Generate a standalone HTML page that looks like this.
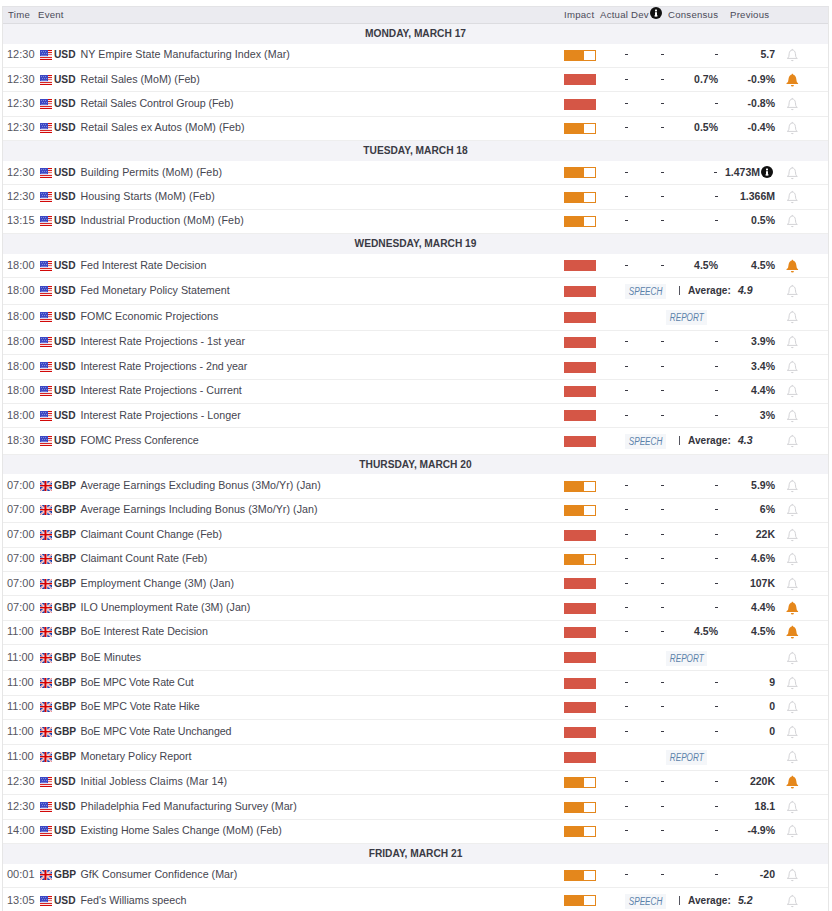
<!DOCTYPE html><html><head><meta charset="utf-8"><title>Economic Calendar</title><style>
*{margin:0;padding:0;box-sizing:border-box}
html,body{width:832px;height:911px;overflow:hidden;background:#fff}
body{position:relative;font-family:"Liberation Sans", sans-serif;color:#333}
.tbl{position:absolute;left:2px;top:6px;width:827px;height:920px;border-left:1px solid #e6e6e6;border-right:1px solid #e6e6e6;border-top:1px solid #e3e3e6}
.hd{position:absolute;left:3px;top:7px;width:825px;height:17px;background:#ebebf0;border-bottom:1px solid #dcdce0}
.t{position:absolute;white-space:nowrap;line-height:12px}
.h{font-size:9.6px;letter-spacing:0.25px;color:#4a4a58}
.day{position:absolute;left:3px;width:825px;background:#f3f3f7}
.dt{position:absolute;left:0;width:825px;text-align:center;font-weight:bold;font-size:10.2px;color:#3a3a44}
.row{position:absolute;left:3px;width:825px;border-bottom:1px solid #eeeeee;background:#fff}
.tm{font-size:11px;color:#56565f}
.cc{font-size:10.2px;font-weight:bold;color:#34343c}
.nm{font-size:10.7px;color:#45454f}
.v{font-size:10.5px;font-weight:bold;color:#34343c}
.r{text-align:right}
.dash{position:absolute;width:3px;height:1px;background:#3a3a44}
.bar{position:absolute;width:32px;height:11px}
.bar.r1{background:#d55646}
.bar.o1{background:#e4871c}
.bar.o1 i{position:absolute;right:1px;top:1px;width:11px;height:9px;background:#fff}
.lab{position:absolute;width:41px;height:15px;background:#f4f6f9;color:#5b82aa;font-style:italic;font-size:10px;text-align:center;line-height:15px}
.lab span{display:inline-block;transform:scaleX(0.82);transform-origin:50% 50%}
.ab,.ic{position:absolute;line-height:0}
svg{display:block}
</style></head><body>
<div class="tbl"></div>
<div class="hd"></div>
<div class="t h" style="left:8px;top:9px">Time</div>
<div class="t h" style="left:38px;top:9px">Event</div>
<div class="t h" style="left:564px;top:9px">Impact</div>
<div class="t h" style="left:600px;top:9px">Actual</div>
<div class="t h" style="left:631px;top:9px">Dev</div>
<div class="t h" style="left:668px;top:9px">Consensus</div>
<div class="t h" style="left:730px;top:9px">Previous</div>
<div class="ic" style="left:650px;top:7px"><svg width="12" height="12" viewBox="0 0 12 12"><circle cx="6" cy="6" r="6" fill="#111"/><rect x="5" y="2.6" width="2" height="1.8" fill="#fff"/><rect x="5" y="5.2" width="2" height="4.2" fill="#fff"/><rect x="4.4" y="8.4" width="3.2" height="1" fill="#fff"/></svg></div>
<div class="day" style="top:24px;height:20px"><div class="t dt" style="top:4px">MONDAY, MARCH 17</div></div>
<div class="row" style="top:44px;height:24px">
<div class="t tm" style="left:4px;top:4px">12:30</div>
<div class="ab" style="left:37px;top:6px"><svg width="12" height="10" viewBox="0 0 12 10" shape-rendering="crispEdges"><rect width="12" height="10" fill="#fae6e6"/><rect x="8" y="0" width="4" height="1" fill="#d40a0a"/><rect x="8" y="2" width="4" height="1" fill="#d82020"/><rect x="8" y="4" width="4" height="1" fill="#e47070"/><rect x="0" y="7" width="12" height="1" fill="#d82424"/><rect x="0" y="9" width="12" height="1" fill="#d20808"/><rect x="0" y="6" width="8" height="1" fill="#dcdcf4"/><rect x="0" y="0" width="8" height="6" fill="#3c48c4"/><rect x="1" y="1" width="1" height="1" fill="#8088dc"/><rect x="3" y="1" width="1" height="1" fill="#8088dc"/><rect x="5" y="1" width="1" height="1" fill="#8088dc"/><rect x="2" y="3" width="1" height="1" fill="#8088dc"/><rect x="4" y="3" width="1" height="1" fill="#8088dc"/><rect x="6" y="3" width="1" height="1" fill="#8088dc"/><rect x="1" y="5" width="6" height="1" fill="#7078d4"/></svg></div>
<div class="t cc" style="left:51px;top:5px">USD</div>
<div class="t nm" style="left:77.5px;top:4px;letter-spacing:0.040px;">NY Empire State Manufacturing Index (Mar)</div>
<div class="bar o1" style="left:561px;top:6px"><i></i></div>
<div class="dash" style="left:622px;top:10px"></div>
<div class="dash" style="left:658px;top:10px"></div>
<div class="dash" style="left:712px;top:10px"></div>
<div class="t v r" style="right:53px;top:4px">5.7</div>
<div class="ab" style="left:783px;top:4px"><svg width="13" height="15" viewBox="0 0 13 15"><path d="M6.3 2.0 C4.4 2.1 3.4 3.6 3.2 5.6 L2.8 8.7 C2.6 9.5 2.0 10.0 1.3 10.4 L11.3 10.4 C10.6 10.0 10.0 9.5 9.8 8.7 L9.4 5.6 C9.2 3.6 8.2 2.1 6.3 2.0 Z" fill="none" stroke="#d3d3d6" stroke-width="1"/><rect x="5.8" y="0.9" width="1" height="1.2" fill="#d3d3d6"/><path d="M5 12.1 H7.6 A1.3 1.1 0 0 1 5 12.1 Z" fill="#d3d3d6"/></svg></div>
</div>
<div class="row" style="top:68px;height:24px">
<div class="t tm" style="left:4px;top:5px">12:30</div>
<div class="ab" style="left:37px;top:7px"><svg width="12" height="10" viewBox="0 0 12 10" shape-rendering="crispEdges"><rect width="12" height="10" fill="#fae6e6"/><rect x="8" y="0" width="4" height="1" fill="#d40a0a"/><rect x="8" y="2" width="4" height="1" fill="#d82020"/><rect x="8" y="4" width="4" height="1" fill="#e47070"/><rect x="0" y="7" width="12" height="1" fill="#d82424"/><rect x="0" y="9" width="12" height="1" fill="#d20808"/><rect x="0" y="6" width="8" height="1" fill="#dcdcf4"/><rect x="0" y="0" width="8" height="6" fill="#3c48c4"/><rect x="1" y="1" width="1" height="1" fill="#8088dc"/><rect x="3" y="1" width="1" height="1" fill="#8088dc"/><rect x="5" y="1" width="1" height="1" fill="#8088dc"/><rect x="2" y="3" width="1" height="1" fill="#8088dc"/><rect x="4" y="3" width="1" height="1" fill="#8088dc"/><rect x="6" y="3" width="1" height="1" fill="#8088dc"/><rect x="1" y="5" width="6" height="1" fill="#7078d4"/></svg></div>
<div class="t cc" style="left:51px;top:6px">USD</div>
<div class="t nm" style="left:77.5px;top:5px;">Retail Sales (MoM) (Feb)</div>
<div class="bar r1" style="left:561px;top:6px"></div>
<div class="dash" style="left:622px;top:11px"></div>
<div class="dash" style="left:658px;top:11px"></div>
<div class="t v r" style="right:110px;top:5px">0.7%</div>
<div class="t v r" style="right:53px;top:5px">-0.9%</div>
<div class="ab" style="left:783px;top:5px"><svg width="13" height="15" viewBox="0 0 13 15"><path d="M6.4 1.5 C4.2 1.6 2.9 3.2 2.6 5.5 L2.1 8.6 C1.9 9.4 1.2 9.9 0.5 10.2 L0.5 11 L12.1 11 L12.1 10.2 C11.4 9.9 10.9 9.4 10.7 8.6 L10.2 5.5 C9.9 3.2 8.6 1.6 6.4 1.5 Z" fill="#e5871b"/><rect x="5.8" y="0.8" width="1.2" height="1.2" fill="#e5871b"/><path d="M4.9 11.9 H7.9 A1.5 1.5 0 0 1 4.9 11.9 Z" fill="#e5871b"/></svg></div>
</div>
<div class="row" style="top:92px;height:25px">
<div class="t tm" style="left:4px;top:5px">12:30</div>
<div class="ab" style="left:37px;top:7px"><svg width="12" height="10" viewBox="0 0 12 10" shape-rendering="crispEdges"><rect width="12" height="10" fill="#fae6e6"/><rect x="8" y="0" width="4" height="1" fill="#d40a0a"/><rect x="8" y="2" width="4" height="1" fill="#d82020"/><rect x="8" y="4" width="4" height="1" fill="#e47070"/><rect x="0" y="7" width="12" height="1" fill="#d82424"/><rect x="0" y="9" width="12" height="1" fill="#d20808"/><rect x="0" y="6" width="8" height="1" fill="#dcdcf4"/><rect x="0" y="0" width="8" height="6" fill="#3c48c4"/><rect x="1" y="1" width="1" height="1" fill="#8088dc"/><rect x="3" y="1" width="1" height="1" fill="#8088dc"/><rect x="5" y="1" width="1" height="1" fill="#8088dc"/><rect x="2" y="3" width="1" height="1" fill="#8088dc"/><rect x="4" y="3" width="1" height="1" fill="#8088dc"/><rect x="6" y="3" width="1" height="1" fill="#8088dc"/><rect x="1" y="5" width="6" height="1" fill="#7078d4"/></svg></div>
<div class="t cc" style="left:51px;top:6px">USD</div>
<div class="t nm" style="left:77.5px;top:5px;letter-spacing:-0.081px;">Retail Sales Control Group (Feb)</div>
<div class="bar r1" style="left:561px;top:7px"></div>
<div class="dash" style="left:622px;top:11px"></div>
<div class="dash" style="left:658px;top:11px"></div>
<div class="dash" style="left:712px;top:11px"></div>
<div class="t v r" style="right:53px;top:5px">-0.8%</div>
<div class="ab" style="left:783px;top:5px"><svg width="13" height="15" viewBox="0 0 13 15"><path d="M6.3 2.0 C4.4 2.1 3.4 3.6 3.2 5.6 L2.8 8.7 C2.6 9.5 2.0 10.0 1.3 10.4 L11.3 10.4 C10.6 10.0 10.0 9.5 9.8 8.7 L9.4 5.6 C9.2 3.6 8.2 2.1 6.3 2.0 Z" fill="none" stroke="#d3d3d6" stroke-width="1"/><rect x="5.8" y="0.9" width="1" height="1.2" fill="#d3d3d6"/><path d="M5 12.1 H7.6 A1.3 1.1 0 0 1 5 12.1 Z" fill="#d3d3d6"/></svg></div>
</div>
<div class="row" style="top:117px;height:24px">
<div class="t tm" style="left:4px;top:4px">12:30</div>
<div class="ab" style="left:37px;top:6px"><svg width="12" height="10" viewBox="0 0 12 10" shape-rendering="crispEdges"><rect width="12" height="10" fill="#fae6e6"/><rect x="8" y="0" width="4" height="1" fill="#d40a0a"/><rect x="8" y="2" width="4" height="1" fill="#d82020"/><rect x="8" y="4" width="4" height="1" fill="#e47070"/><rect x="0" y="7" width="12" height="1" fill="#d82424"/><rect x="0" y="9" width="12" height="1" fill="#d20808"/><rect x="0" y="6" width="8" height="1" fill="#dcdcf4"/><rect x="0" y="0" width="8" height="6" fill="#3c48c4"/><rect x="1" y="1" width="1" height="1" fill="#8088dc"/><rect x="3" y="1" width="1" height="1" fill="#8088dc"/><rect x="5" y="1" width="1" height="1" fill="#8088dc"/><rect x="2" y="3" width="1" height="1" fill="#8088dc"/><rect x="4" y="3" width="1" height="1" fill="#8088dc"/><rect x="6" y="3" width="1" height="1" fill="#8088dc"/><rect x="1" y="5" width="6" height="1" fill="#7078d4"/></svg></div>
<div class="t cc" style="left:51px;top:5px">USD</div>
<div class="t nm" style="left:77.5px;top:4px;letter-spacing:0.022px;">Retail Sales ex Autos (MoM) (Feb)</div>
<div class="bar o1" style="left:561px;top:6px"><i></i></div>
<div class="dash" style="left:622px;top:10px"></div>
<div class="dash" style="left:658px;top:10px"></div>
<div class="t v r" style="right:110px;top:4px">0.5%</div>
<div class="t v r" style="right:53px;top:4px">-0.4%</div>
<div class="ab" style="left:783px;top:4px"><svg width="13" height="15" viewBox="0 0 13 15"><path d="M6.3 2.0 C4.4 2.1 3.4 3.6 3.2 5.6 L2.8 8.7 C2.6 9.5 2.0 10.0 1.3 10.4 L11.3 10.4 C10.6 10.0 10.0 9.5 9.8 8.7 L9.4 5.6 C9.2 3.6 8.2 2.1 6.3 2.0 Z" fill="none" stroke="#d3d3d6" stroke-width="1"/><rect x="5.8" y="0.9" width="1" height="1.2" fill="#d3d3d6"/><path d="M5 12.1 H7.6 A1.3 1.1 0 0 1 5 12.1 Z" fill="#d3d3d6"/></svg></div>
</div>
<div class="day" style="top:141px;height:20px"><div class="t dt" style="top:4px">TUESDAY, MARCH 18</div></div>
<div class="row" style="top:161px;height:24px">
<div class="t tm" style="left:4px;top:5px">12:30</div>
<div class="ab" style="left:37px;top:7px"><svg width="12" height="10" viewBox="0 0 12 10" shape-rendering="crispEdges"><rect width="12" height="10" fill="#fae6e6"/><rect x="8" y="0" width="4" height="1" fill="#d40a0a"/><rect x="8" y="2" width="4" height="1" fill="#d82020"/><rect x="8" y="4" width="4" height="1" fill="#e47070"/><rect x="0" y="7" width="12" height="1" fill="#d82424"/><rect x="0" y="9" width="12" height="1" fill="#d20808"/><rect x="0" y="6" width="8" height="1" fill="#dcdcf4"/><rect x="0" y="0" width="8" height="6" fill="#3c48c4"/><rect x="1" y="1" width="1" height="1" fill="#8088dc"/><rect x="3" y="1" width="1" height="1" fill="#8088dc"/><rect x="5" y="1" width="1" height="1" fill="#8088dc"/><rect x="2" y="3" width="1" height="1" fill="#8088dc"/><rect x="4" y="3" width="1" height="1" fill="#8088dc"/><rect x="6" y="3" width="1" height="1" fill="#8088dc"/><rect x="1" y="5" width="6" height="1" fill="#7078d4"/></svg></div>
<div class="t cc" style="left:51px;top:6px">USD</div>
<div class="t nm" style="left:77.5px;top:5px;letter-spacing:0.070px;">Building Permits (MoM) (Feb)</div>
<div class="bar o1" style="left:561px;top:6px"><i></i></div>
<div class="dash" style="left:622px;top:11px"></div>
<div class="dash" style="left:658px;top:11px"></div>
<div class="dash" style="left:711px;top:11px"></div>
<div class="t v r" style="right:68px;top:5px">1.473M</div>
<div class="ic" style="left:758px;top:5px"><svg width="12" height="12" viewBox="0 0 12 12"><circle cx="6" cy="6" r="6" fill="#111"/><rect x="5" y="2.6" width="2" height="1.8" fill="#fff"/><rect x="5" y="5.2" width="2" height="4.2" fill="#fff"/><rect x="4.4" y="8.4" width="3.2" height="1" fill="#fff"/></svg></div>
<div class="ab" style="left:783px;top:5px"><svg width="13" height="15" viewBox="0 0 13 15"><path d="M6.3 2.0 C4.4 2.1 3.4 3.6 3.2 5.6 L2.8 8.7 C2.6 9.5 2.0 10.0 1.3 10.4 L11.3 10.4 C10.6 10.0 10.0 9.5 9.8 8.7 L9.4 5.6 C9.2 3.6 8.2 2.1 6.3 2.0 Z" fill="none" stroke="#d3d3d6" stroke-width="1"/><rect x="5.8" y="0.9" width="1" height="1.2" fill="#d3d3d6"/><path d="M5 12.1 H7.6 A1.3 1.1 0 0 1 5 12.1 Z" fill="#d3d3d6"/></svg></div>
</div>
<div class="row" style="top:185px;height:25px">
<div class="t tm" style="left:4px;top:5px">12:30</div>
<div class="ab" style="left:37px;top:7px"><svg width="12" height="10" viewBox="0 0 12 10" shape-rendering="crispEdges"><rect width="12" height="10" fill="#fae6e6"/><rect x="8" y="0" width="4" height="1" fill="#d40a0a"/><rect x="8" y="2" width="4" height="1" fill="#d82020"/><rect x="8" y="4" width="4" height="1" fill="#e47070"/><rect x="0" y="7" width="12" height="1" fill="#d82424"/><rect x="0" y="9" width="12" height="1" fill="#d20808"/><rect x="0" y="6" width="8" height="1" fill="#dcdcf4"/><rect x="0" y="0" width="8" height="6" fill="#3c48c4"/><rect x="1" y="1" width="1" height="1" fill="#8088dc"/><rect x="3" y="1" width="1" height="1" fill="#8088dc"/><rect x="5" y="1" width="1" height="1" fill="#8088dc"/><rect x="2" y="3" width="1" height="1" fill="#8088dc"/><rect x="4" y="3" width="1" height="1" fill="#8088dc"/><rect x="6" y="3" width="1" height="1" fill="#8088dc"/><rect x="1" y="5" width="6" height="1" fill="#7078d4"/></svg></div>
<div class="t cc" style="left:51px;top:6px">USD</div>
<div class="t nm" style="left:77.5px;top:5px;letter-spacing:0.076px;">Housing Starts (MoM) (Feb)</div>
<div class="bar o1" style="left:561px;top:7px"><i></i></div>
<div class="dash" style="left:622px;top:11px"></div>
<div class="dash" style="left:658px;top:11px"></div>
<div class="dash" style="left:712px;top:11px"></div>
<div class="t v r" style="right:53px;top:5px">1.366M</div>
<div class="ab" style="left:783px;top:5px"><svg width="13" height="15" viewBox="0 0 13 15"><path d="M6.3 2.0 C4.4 2.1 3.4 3.6 3.2 5.6 L2.8 8.7 C2.6 9.5 2.0 10.0 1.3 10.4 L11.3 10.4 C10.6 10.0 10.0 9.5 9.8 8.7 L9.4 5.6 C9.2 3.6 8.2 2.1 6.3 2.0 Z" fill="none" stroke="#d3d3d6" stroke-width="1"/><rect x="5.8" y="0.9" width="1" height="1.2" fill="#d3d3d6"/><path d="M5 12.1 H7.6 A1.3 1.1 0 0 1 5 12.1 Z" fill="#d3d3d6"/></svg></div>
</div>
<div class="row" style="top:210px;height:24px">
<div class="t tm" style="left:4px;top:4px">13:15</div>
<div class="ab" style="left:37px;top:6px"><svg width="12" height="10" viewBox="0 0 12 10" shape-rendering="crispEdges"><rect width="12" height="10" fill="#fae6e6"/><rect x="8" y="0" width="4" height="1" fill="#d40a0a"/><rect x="8" y="2" width="4" height="1" fill="#d82020"/><rect x="8" y="4" width="4" height="1" fill="#e47070"/><rect x="0" y="7" width="12" height="1" fill="#d82424"/><rect x="0" y="9" width="12" height="1" fill="#d20808"/><rect x="0" y="6" width="8" height="1" fill="#dcdcf4"/><rect x="0" y="0" width="8" height="6" fill="#3c48c4"/><rect x="1" y="1" width="1" height="1" fill="#8088dc"/><rect x="3" y="1" width="1" height="1" fill="#8088dc"/><rect x="5" y="1" width="1" height="1" fill="#8088dc"/><rect x="2" y="3" width="1" height="1" fill="#8088dc"/><rect x="4" y="3" width="1" height="1" fill="#8088dc"/><rect x="6" y="3" width="1" height="1" fill="#8088dc"/><rect x="1" y="5" width="6" height="1" fill="#7078d4"/></svg></div>
<div class="t cc" style="left:51px;top:5px">USD</div>
<div class="t nm" style="left:77.5px;top:4px;letter-spacing:0.109px;">Industrial Production (MoM) (Feb)</div>
<div class="bar o1" style="left:561px;top:6px"><i></i></div>
<div class="dash" style="left:622px;top:10px"></div>
<div class="dash" style="left:658px;top:10px"></div>
<div class="dash" style="left:712px;top:10px"></div>
<div class="t v r" style="right:53px;top:4px">0.5%</div>
<div class="ab" style="left:783px;top:4px"><svg width="13" height="15" viewBox="0 0 13 15"><path d="M6.3 2.0 C4.4 2.1 3.4 3.6 3.2 5.6 L2.8 8.7 C2.6 9.5 2.0 10.0 1.3 10.4 L11.3 10.4 C10.6 10.0 10.0 9.5 9.8 8.7 L9.4 5.6 C9.2 3.6 8.2 2.1 6.3 2.0 Z" fill="none" stroke="#d3d3d6" stroke-width="1"/><rect x="5.8" y="0.9" width="1" height="1.2" fill="#d3d3d6"/><path d="M5 12.1 H7.6 A1.3 1.1 0 0 1 5 12.1 Z" fill="#d3d3d6"/></svg></div>
</div>
<div class="day" style="top:234px;height:20px"><div class="t dt" style="top:4px">WEDNESDAY, MARCH 19</div></div>
<div class="row" style="top:254px;height:24px">
<div class="t tm" style="left:4px;top:5px">18:00</div>
<div class="ab" style="left:37px;top:7px"><svg width="12" height="10" viewBox="0 0 12 10" shape-rendering="crispEdges"><rect width="12" height="10" fill="#fae6e6"/><rect x="8" y="0" width="4" height="1" fill="#d40a0a"/><rect x="8" y="2" width="4" height="1" fill="#d82020"/><rect x="8" y="4" width="4" height="1" fill="#e47070"/><rect x="0" y="7" width="12" height="1" fill="#d82424"/><rect x="0" y="9" width="12" height="1" fill="#d20808"/><rect x="0" y="6" width="8" height="1" fill="#dcdcf4"/><rect x="0" y="0" width="8" height="6" fill="#3c48c4"/><rect x="1" y="1" width="1" height="1" fill="#8088dc"/><rect x="3" y="1" width="1" height="1" fill="#8088dc"/><rect x="5" y="1" width="1" height="1" fill="#8088dc"/><rect x="2" y="3" width="1" height="1" fill="#8088dc"/><rect x="4" y="3" width="1" height="1" fill="#8088dc"/><rect x="6" y="3" width="1" height="1" fill="#8088dc"/><rect x="1" y="5" width="6" height="1" fill="#7078d4"/></svg></div>
<div class="t cc" style="left:51px;top:6px">USD</div>
<div class="t nm" style="left:77.5px;top:5px;letter-spacing:-0.028px;">Fed Interest Rate Decision</div>
<div class="bar r1" style="left:561px;top:6px"></div>
<div class="dash" style="left:622px;top:11px"></div>
<div class="dash" style="left:658px;top:11px"></div>
<div class="t v r" style="right:110px;top:5px">4.5%</div>
<div class="t v r" style="right:53px;top:5px">4.5%</div>
<div class="ab" style="left:783px;top:5px"><svg width="13" height="15" viewBox="0 0 13 15"><path d="M6.4 1.5 C4.2 1.6 2.9 3.2 2.6 5.5 L2.1 8.6 C1.9 9.4 1.2 9.9 0.5 10.2 L0.5 11 L12.1 11 L12.1 10.2 C11.4 9.9 10.9 9.4 10.7 8.6 L10.2 5.5 C9.9 3.2 8.6 1.6 6.4 1.5 Z" fill="#e5871b"/><rect x="5.8" y="0.8" width="1.2" height="1.2" fill="#e5871b"/><path d="M4.9 11.9 H7.9 A1.5 1.5 0 0 1 4.9 11.9 Z" fill="#e5871b"/></svg></div>
</div>
<div class="row" style="top:278px;height:27px">
<div class="t tm" style="left:4px;top:6px">18:00</div>
<div class="ab" style="left:37px;top:8px"><svg width="12" height="10" viewBox="0 0 12 10" shape-rendering="crispEdges"><rect width="12" height="10" fill="#fae6e6"/><rect x="8" y="0" width="4" height="1" fill="#d40a0a"/><rect x="8" y="2" width="4" height="1" fill="#d82020"/><rect x="8" y="4" width="4" height="1" fill="#e47070"/><rect x="0" y="7" width="12" height="1" fill="#d82424"/><rect x="0" y="9" width="12" height="1" fill="#d20808"/><rect x="0" y="6" width="8" height="1" fill="#dcdcf4"/><rect x="0" y="0" width="8" height="6" fill="#3c48c4"/><rect x="1" y="1" width="1" height="1" fill="#8088dc"/><rect x="3" y="1" width="1" height="1" fill="#8088dc"/><rect x="5" y="1" width="1" height="1" fill="#8088dc"/><rect x="2" y="3" width="1" height="1" fill="#8088dc"/><rect x="4" y="3" width="1" height="1" fill="#8088dc"/><rect x="6" y="3" width="1" height="1" fill="#8088dc"/><rect x="1" y="5" width="6" height="1" fill="#7078d4"/></svg></div>
<div class="t cc" style="left:51px;top:7px">USD</div>
<div class="t nm" style="left:77.5px;top:6px;">Fed Monetary Policy Statement</div>
<div class="bar r1" style="left:561px;top:8px"></div>
<div class="lab" style="left:622px;top:6px"><span>SPEECH</span></div>
<div style="position:absolute;left:676px;top:8px;width:1px;height:9px;background:#55555f"></div>
<div class="t v" style="left:685px;top:7px;font-size:10.1px">Average:</div>
<div class="t v" style="left:735px;top:6px;font-style:italic;">4.9</div>
<div class="ab" style="left:783px;top:6px"><svg width="13" height="15" viewBox="0 0 13 15"><path d="M6.3 2.0 C4.4 2.1 3.4 3.6 3.2 5.6 L2.8 8.7 C2.6 9.5 2.0 10.0 1.3 10.4 L11.3 10.4 C10.6 10.0 10.0 9.5 9.8 8.7 L9.4 5.6 C9.2 3.6 8.2 2.1 6.3 2.0 Z" fill="none" stroke="#d3d3d6" stroke-width="1"/><rect x="5.8" y="0.9" width="1" height="1.2" fill="#d3d3d6"/><path d="M5 12.1 H7.6 A1.3 1.1 0 0 1 5 12.1 Z" fill="#d3d3d6"/></svg></div>
</div>
<div class="row" style="top:305px;height:26px">
<div class="t tm" style="left:4px;top:5px">18:00</div>
<div class="ab" style="left:37px;top:7px"><svg width="12" height="10" viewBox="0 0 12 10" shape-rendering="crispEdges"><rect width="12" height="10" fill="#fae6e6"/><rect x="8" y="0" width="4" height="1" fill="#d40a0a"/><rect x="8" y="2" width="4" height="1" fill="#d82020"/><rect x="8" y="4" width="4" height="1" fill="#e47070"/><rect x="0" y="7" width="12" height="1" fill="#d82424"/><rect x="0" y="9" width="12" height="1" fill="#d20808"/><rect x="0" y="6" width="8" height="1" fill="#dcdcf4"/><rect x="0" y="0" width="8" height="6" fill="#3c48c4"/><rect x="1" y="1" width="1" height="1" fill="#8088dc"/><rect x="3" y="1" width="1" height="1" fill="#8088dc"/><rect x="5" y="1" width="1" height="1" fill="#8088dc"/><rect x="2" y="3" width="1" height="1" fill="#8088dc"/><rect x="4" y="3" width="1" height="1" fill="#8088dc"/><rect x="6" y="3" width="1" height="1" fill="#8088dc"/><rect x="1" y="5" width="6" height="1" fill="#7078d4"/></svg></div>
<div class="t cc" style="left:51px;top:6px">USD</div>
<div class="t nm" style="left:77.5px;top:5px;letter-spacing:0.029px;">FOMC Economic Projections</div>
<div class="bar r1" style="left:561px;top:7px"></div>
<div class="lab" style="left:663px;top:5px"><span>REPORT</span></div>
<div class="ab" style="left:783px;top:5px"><svg width="13" height="15" viewBox="0 0 13 15"><path d="M6.3 2.0 C4.4 2.1 3.4 3.6 3.2 5.6 L2.8 8.7 C2.6 9.5 2.0 10.0 1.3 10.4 L11.3 10.4 C10.6 10.0 10.0 9.5 9.8 8.7 L9.4 5.6 C9.2 3.6 8.2 2.1 6.3 2.0 Z" fill="none" stroke="#d3d3d6" stroke-width="1"/><rect x="5.8" y="0.9" width="1" height="1.2" fill="#d3d3d6"/><path d="M5 12.1 H7.6 A1.3 1.1 0 0 1 5 12.1 Z" fill="#d3d3d6"/></svg></div>
</div>
<div class="row" style="top:331px;height:24px">
<div class="t tm" style="left:4px;top:4px">18:00</div>
<div class="ab" style="left:37px;top:6px"><svg width="12" height="10" viewBox="0 0 12 10" shape-rendering="crispEdges"><rect width="12" height="10" fill="#fae6e6"/><rect x="8" y="0" width="4" height="1" fill="#d40a0a"/><rect x="8" y="2" width="4" height="1" fill="#d82020"/><rect x="8" y="4" width="4" height="1" fill="#e47070"/><rect x="0" y="7" width="12" height="1" fill="#d82424"/><rect x="0" y="9" width="12" height="1" fill="#d20808"/><rect x="0" y="6" width="8" height="1" fill="#dcdcf4"/><rect x="0" y="0" width="8" height="6" fill="#3c48c4"/><rect x="1" y="1" width="1" height="1" fill="#8088dc"/><rect x="3" y="1" width="1" height="1" fill="#8088dc"/><rect x="5" y="1" width="1" height="1" fill="#8088dc"/><rect x="2" y="3" width="1" height="1" fill="#8088dc"/><rect x="4" y="3" width="1" height="1" fill="#8088dc"/><rect x="6" y="3" width="1" height="1" fill="#8088dc"/><rect x="1" y="5" width="6" height="1" fill="#7078d4"/></svg></div>
<div class="t cc" style="left:51px;top:5px">USD</div>
<div class="t nm" style="left:77.5px;top:4px;">Interest Rate Projections - 1st year</div>
<div class="bar r1" style="left:561px;top:6px"></div>
<div class="dash" style="left:622px;top:10px"></div>
<div class="dash" style="left:658px;top:10px"></div>
<div class="dash" style="left:712px;top:10px"></div>
<div class="t v r" style="right:53px;top:4px">3.9%</div>
<div class="ab" style="left:783px;top:4px"><svg width="13" height="15" viewBox="0 0 13 15"><path d="M6.3 2.0 C4.4 2.1 3.4 3.6 3.2 5.6 L2.8 8.7 C2.6 9.5 2.0 10.0 1.3 10.4 L11.3 10.4 C10.6 10.0 10.0 9.5 9.8 8.7 L9.4 5.6 C9.2 3.6 8.2 2.1 6.3 2.0 Z" fill="none" stroke="#d3d3d6" stroke-width="1"/><rect x="5.8" y="0.9" width="1" height="1.2" fill="#d3d3d6"/><path d="M5 12.1 H7.6 A1.3 1.1 0 0 1 5 12.1 Z" fill="#d3d3d6"/></svg></div>
</div>
<div class="row" style="top:355px;height:25px">
<div class="t tm" style="left:4px;top:5px">18:00</div>
<div class="ab" style="left:37px;top:7px"><svg width="12" height="10" viewBox="0 0 12 10" shape-rendering="crispEdges"><rect width="12" height="10" fill="#fae6e6"/><rect x="8" y="0" width="4" height="1" fill="#d40a0a"/><rect x="8" y="2" width="4" height="1" fill="#d82020"/><rect x="8" y="4" width="4" height="1" fill="#e47070"/><rect x="0" y="7" width="12" height="1" fill="#d82424"/><rect x="0" y="9" width="12" height="1" fill="#d20808"/><rect x="0" y="6" width="8" height="1" fill="#dcdcf4"/><rect x="0" y="0" width="8" height="6" fill="#3c48c4"/><rect x="1" y="1" width="1" height="1" fill="#8088dc"/><rect x="3" y="1" width="1" height="1" fill="#8088dc"/><rect x="5" y="1" width="1" height="1" fill="#8088dc"/><rect x="2" y="3" width="1" height="1" fill="#8088dc"/><rect x="4" y="3" width="1" height="1" fill="#8088dc"/><rect x="6" y="3" width="1" height="1" fill="#8088dc"/><rect x="1" y="5" width="6" height="1" fill="#7078d4"/></svg></div>
<div class="t cc" style="left:51px;top:6px">USD</div>
<div class="t nm" style="left:77.5px;top:5px;letter-spacing:-0.037px;">Interest Rate Projections - 2nd year</div>
<div class="bar r1" style="left:561px;top:7px"></div>
<div class="dash" style="left:622px;top:11px"></div>
<div class="dash" style="left:658px;top:11px"></div>
<div class="dash" style="left:712px;top:11px"></div>
<div class="t v r" style="right:53px;top:5px">3.4%</div>
<div class="ab" style="left:783px;top:5px"><svg width="13" height="15" viewBox="0 0 13 15"><path d="M6.3 2.0 C4.4 2.1 3.4 3.6 3.2 5.6 L2.8 8.7 C2.6 9.5 2.0 10.0 1.3 10.4 L11.3 10.4 C10.6 10.0 10.0 9.5 9.8 8.7 L9.4 5.6 C9.2 3.6 8.2 2.1 6.3 2.0 Z" fill="none" stroke="#d3d3d6" stroke-width="1"/><rect x="5.8" y="0.9" width="1" height="1.2" fill="#d3d3d6"/><path d="M5 12.1 H7.6 A1.3 1.1 0 0 1 5 12.1 Z" fill="#d3d3d6"/></svg></div>
</div>
<div class="row" style="top:380px;height:24px">
<div class="t tm" style="left:4px;top:4px">18:00</div>
<div class="ab" style="left:37px;top:6px"><svg width="12" height="10" viewBox="0 0 12 10" shape-rendering="crispEdges"><rect width="12" height="10" fill="#fae6e6"/><rect x="8" y="0" width="4" height="1" fill="#d40a0a"/><rect x="8" y="2" width="4" height="1" fill="#d82020"/><rect x="8" y="4" width="4" height="1" fill="#e47070"/><rect x="0" y="7" width="12" height="1" fill="#d82424"/><rect x="0" y="9" width="12" height="1" fill="#d20808"/><rect x="0" y="6" width="8" height="1" fill="#dcdcf4"/><rect x="0" y="0" width="8" height="6" fill="#3c48c4"/><rect x="1" y="1" width="1" height="1" fill="#8088dc"/><rect x="3" y="1" width="1" height="1" fill="#8088dc"/><rect x="5" y="1" width="1" height="1" fill="#8088dc"/><rect x="2" y="3" width="1" height="1" fill="#8088dc"/><rect x="4" y="3" width="1" height="1" fill="#8088dc"/><rect x="6" y="3" width="1" height="1" fill="#8088dc"/><rect x="1" y="5" width="6" height="1" fill="#7078d4"/></svg></div>
<div class="t cc" style="left:51px;top:5px">USD</div>
<div class="t nm" style="left:77.5px;top:4px;letter-spacing:-0.024px;">Interest Rate Projections - Current</div>
<div class="bar r1" style="left:561px;top:6px"></div>
<div class="dash" style="left:622px;top:10px"></div>
<div class="dash" style="left:658px;top:10px"></div>
<div class="dash" style="left:712px;top:10px"></div>
<div class="t v r" style="right:53px;top:4px">4.4%</div>
<div class="ab" style="left:783px;top:4px"><svg width="13" height="15" viewBox="0 0 13 15"><path d="M6.3 2.0 C4.4 2.1 3.4 3.6 3.2 5.6 L2.8 8.7 C2.6 9.5 2.0 10.0 1.3 10.4 L11.3 10.4 C10.6 10.0 10.0 9.5 9.8 8.7 L9.4 5.6 C9.2 3.6 8.2 2.1 6.3 2.0 Z" fill="none" stroke="#d3d3d6" stroke-width="1"/><rect x="5.8" y="0.9" width="1" height="1.2" fill="#d3d3d6"/><path d="M5 12.1 H7.6 A1.3 1.1 0 0 1 5 12.1 Z" fill="#d3d3d6"/></svg></div>
</div>
<div class="row" style="top:404px;height:24px">
<div class="t tm" style="left:4px;top:5px">18:00</div>
<div class="ab" style="left:37px;top:7px"><svg width="12" height="10" viewBox="0 0 12 10" shape-rendering="crispEdges"><rect width="12" height="10" fill="#fae6e6"/><rect x="8" y="0" width="4" height="1" fill="#d40a0a"/><rect x="8" y="2" width="4" height="1" fill="#d82020"/><rect x="8" y="4" width="4" height="1" fill="#e47070"/><rect x="0" y="7" width="12" height="1" fill="#d82424"/><rect x="0" y="9" width="12" height="1" fill="#d20808"/><rect x="0" y="6" width="8" height="1" fill="#dcdcf4"/><rect x="0" y="0" width="8" height="6" fill="#3c48c4"/><rect x="1" y="1" width="1" height="1" fill="#8088dc"/><rect x="3" y="1" width="1" height="1" fill="#8088dc"/><rect x="5" y="1" width="1" height="1" fill="#8088dc"/><rect x="2" y="3" width="1" height="1" fill="#8088dc"/><rect x="4" y="3" width="1" height="1" fill="#8088dc"/><rect x="6" y="3" width="1" height="1" fill="#8088dc"/><rect x="1" y="5" width="6" height="1" fill="#7078d4"/></svg></div>
<div class="t cc" style="left:51px;top:6px">USD</div>
<div class="t nm" style="left:77.5px;top:5px;letter-spacing:0.012px;">Interest Rate Projections - Longer</div>
<div class="bar r1" style="left:561px;top:6px"></div>
<div class="dash" style="left:622px;top:11px"></div>
<div class="dash" style="left:658px;top:11px"></div>
<div class="dash" style="left:712px;top:11px"></div>
<div class="t v r" style="right:53px;top:5px">3%</div>
<div class="ab" style="left:783px;top:5px"><svg width="13" height="15" viewBox="0 0 13 15"><path d="M6.3 2.0 C4.4 2.1 3.4 3.6 3.2 5.6 L2.8 8.7 C2.6 9.5 2.0 10.0 1.3 10.4 L11.3 10.4 C10.6 10.0 10.0 9.5 9.8 8.7 L9.4 5.6 C9.2 3.6 8.2 2.1 6.3 2.0 Z" fill="none" stroke="#d3d3d6" stroke-width="1"/><rect x="5.8" y="0.9" width="1" height="1.2" fill="#d3d3d6"/><path d="M5 12.1 H7.6 A1.3 1.1 0 0 1 5 12.1 Z" fill="#d3d3d6"/></svg></div>
</div>
<div class="row" style="top:428px;height:27px">
<div class="t tm" style="left:4px;top:6px">18:30</div>
<div class="ab" style="left:37px;top:8px"><svg width="12" height="10" viewBox="0 0 12 10" shape-rendering="crispEdges"><rect width="12" height="10" fill="#fae6e6"/><rect x="8" y="0" width="4" height="1" fill="#d40a0a"/><rect x="8" y="2" width="4" height="1" fill="#d82020"/><rect x="8" y="4" width="4" height="1" fill="#e47070"/><rect x="0" y="7" width="12" height="1" fill="#d82424"/><rect x="0" y="9" width="12" height="1" fill="#d20808"/><rect x="0" y="6" width="8" height="1" fill="#dcdcf4"/><rect x="0" y="0" width="8" height="6" fill="#3c48c4"/><rect x="1" y="1" width="1" height="1" fill="#8088dc"/><rect x="3" y="1" width="1" height="1" fill="#8088dc"/><rect x="5" y="1" width="1" height="1" fill="#8088dc"/><rect x="2" y="3" width="1" height="1" fill="#8088dc"/><rect x="4" y="3" width="1" height="1" fill="#8088dc"/><rect x="6" y="3" width="1" height="1" fill="#8088dc"/><rect x="1" y="5" width="6" height="1" fill="#7078d4"/></svg></div>
<div class="t cc" style="left:51px;top:7px">USD</div>
<div class="t nm" style="left:77.5px;top:6px;letter-spacing:-0.095px;">FOMC Press Conference</div>
<div class="bar r1" style="left:561px;top:8px"></div>
<div class="lab" style="left:622px;top:6px"><span>SPEECH</span></div>
<div style="position:absolute;left:676px;top:8px;width:1px;height:9px;background:#55555f"></div>
<div class="t v" style="left:685px;top:7px;font-size:10.1px">Average:</div>
<div class="t v" style="left:735px;top:6px;font-style:italic;">4.3</div>
<div class="ab" style="left:783px;top:6px"><svg width="13" height="15" viewBox="0 0 13 15"><path d="M6.3 2.0 C4.4 2.1 3.4 3.6 3.2 5.6 L2.8 8.7 C2.6 9.5 2.0 10.0 1.3 10.4 L11.3 10.4 C10.6 10.0 10.0 9.5 9.8 8.7 L9.4 5.6 C9.2 3.6 8.2 2.1 6.3 2.0 Z" fill="none" stroke="#d3d3d6" stroke-width="1"/><rect x="5.8" y="0.9" width="1" height="1.2" fill="#d3d3d6"/><path d="M5 12.1 H7.6 A1.3 1.1 0 0 1 5 12.1 Z" fill="#d3d3d6"/></svg></div>
</div>
<div class="day" style="top:455px;height:19px"><div class="t dt" style="top:4px">THURSDAY, MARCH 20</div></div>
<div class="row" style="top:474px;height:25px">
<div class="t tm" style="left:4px;top:5px">07:00</div>
<div class="ab" style="left:37px;top:7px"><svg width="12" height="10" viewBox="0 0 60 50"><rect width="60" height="50" fill="#1f3fa8"/><path d="M0 0L60 50M60 0L0 50" stroke="#fff" stroke-width="10"/><path d="M0 0L60 50M60 0L0 50" stroke="#e66" stroke-width="4"/><path d="M30 0V50M0 23.5H60" stroke="#fff" stroke-width="13"/><path d="M27.5 0V50" stroke="#d40000" stroke-width="10"/><path d="M0 23.5H60" stroke="#d40000" stroke-width="7.5"/></svg></div>
<div class="t cc" style="left:51px;top:6px">GBP</div>
<div class="t nm" style="left:77.5px;top:5px;letter-spacing:0.024px;">Average Earnings Excluding Bonus (3Mo/Yr) (Jan)</div>
<div class="bar o1" style="left:561px;top:7px"><i></i></div>
<div class="dash" style="left:622px;top:11px"></div>
<div class="dash" style="left:658px;top:11px"></div>
<div class="dash" style="left:712px;top:11px"></div>
<div class="t v r" style="right:53px;top:5px">5.9%</div>
<div class="ab" style="left:783px;top:5px"><svg width="13" height="15" viewBox="0 0 13 15"><path d="M6.3 2.0 C4.4 2.1 3.4 3.6 3.2 5.6 L2.8 8.7 C2.6 9.5 2.0 10.0 1.3 10.4 L11.3 10.4 C10.6 10.0 10.0 9.5 9.8 8.7 L9.4 5.6 C9.2 3.6 8.2 2.1 6.3 2.0 Z" fill="none" stroke="#d3d3d6" stroke-width="1"/><rect x="5.8" y="0.9" width="1" height="1.2" fill="#d3d3d6"/><path d="M5 12.1 H7.6 A1.3 1.1 0 0 1 5 12.1 Z" fill="#d3d3d6"/></svg></div>
</div>
<div class="row" style="top:499px;height:24px">
<div class="t tm" style="left:4px;top:4px">07:00</div>
<div class="ab" style="left:37px;top:6px"><svg width="12" height="10" viewBox="0 0 60 50"><rect width="60" height="50" fill="#1f3fa8"/><path d="M0 0L60 50M60 0L0 50" stroke="#fff" stroke-width="10"/><path d="M0 0L60 50M60 0L0 50" stroke="#e66" stroke-width="4"/><path d="M30 0V50M0 23.5H60" stroke="#fff" stroke-width="13"/><path d="M27.5 0V50" stroke="#d40000" stroke-width="10"/><path d="M0 23.5H60" stroke="#d40000" stroke-width="7.5"/></svg></div>
<div class="t cc" style="left:51px;top:5px">GBP</div>
<div class="t nm" style="left:77.5px;top:4px;letter-spacing:0.030px;">Average Earnings Including Bonus (3Mo/Yr) (Jan)</div>
<div class="bar o1" style="left:561px;top:6px"><i></i></div>
<div class="dash" style="left:622px;top:10px"></div>
<div class="dash" style="left:658px;top:10px"></div>
<div class="dash" style="left:712px;top:10px"></div>
<div class="t v r" style="right:53px;top:4px">6%</div>
<div class="ab" style="left:783px;top:4px"><svg width="13" height="15" viewBox="0 0 13 15"><path d="M6.3 2.0 C4.4 2.1 3.4 3.6 3.2 5.6 L2.8 8.7 C2.6 9.5 2.0 10.0 1.3 10.4 L11.3 10.4 C10.6 10.0 10.0 9.5 9.8 8.7 L9.4 5.6 C9.2 3.6 8.2 2.1 6.3 2.0 Z" fill="none" stroke="#d3d3d6" stroke-width="1"/><rect x="5.8" y="0.9" width="1" height="1.2" fill="#d3d3d6"/><path d="M5 12.1 H7.6 A1.3 1.1 0 0 1 5 12.1 Z" fill="#d3d3d6"/></svg></div>
</div>
<div class="row" style="top:523px;height:25px">
<div class="t tm" style="left:4px;top:5px">07:00</div>
<div class="ab" style="left:37px;top:7px"><svg width="12" height="10" viewBox="0 0 60 50"><rect width="60" height="50" fill="#1f3fa8"/><path d="M0 0L60 50M60 0L0 50" stroke="#fff" stroke-width="10"/><path d="M0 0L60 50M60 0L0 50" stroke="#e66" stroke-width="4"/><path d="M30 0V50M0 23.5H60" stroke="#fff" stroke-width="13"/><path d="M27.5 0V50" stroke="#d40000" stroke-width="10"/><path d="M0 23.5H60" stroke="#d40000" stroke-width="7.5"/></svg></div>
<div class="t cc" style="left:51px;top:6px">GBP</div>
<div class="t nm" style="left:77.5px;top:5px;letter-spacing:-0.042px;">Claimant Count Change (Feb)</div>
<div class="bar r1" style="left:561px;top:7px"></div>
<div class="dash" style="left:622px;top:11px"></div>
<div class="dash" style="left:658px;top:11px"></div>
<div class="dash" style="left:712px;top:11px"></div>
<div class="t v r" style="right:53px;top:5px">22K</div>
<div class="ab" style="left:783px;top:5px"><svg width="13" height="15" viewBox="0 0 13 15"><path d="M6.3 2.0 C4.4 2.1 3.4 3.6 3.2 5.6 L2.8 8.7 C2.6 9.5 2.0 10.0 1.3 10.4 L11.3 10.4 C10.6 10.0 10.0 9.5 9.8 8.7 L9.4 5.6 C9.2 3.6 8.2 2.1 6.3 2.0 Z" fill="none" stroke="#d3d3d6" stroke-width="1"/><rect x="5.8" y="0.9" width="1" height="1.2" fill="#d3d3d6"/><path d="M5 12.1 H7.6 A1.3 1.1 0 0 1 5 12.1 Z" fill="#d3d3d6"/></svg></div>
</div>
<div class="row" style="top:548px;height:24px">
<div class="t tm" style="left:4px;top:4px">07:00</div>
<div class="ab" style="left:37px;top:6px"><svg width="12" height="10" viewBox="0 0 60 50"><rect width="60" height="50" fill="#1f3fa8"/><path d="M0 0L60 50M60 0L0 50" stroke="#fff" stroke-width="10"/><path d="M0 0L60 50M60 0L0 50" stroke="#e66" stroke-width="4"/><path d="M30 0V50M0 23.5H60" stroke="#fff" stroke-width="13"/><path d="M27.5 0V50" stroke="#d40000" stroke-width="10"/><path d="M0 23.5H60" stroke="#d40000" stroke-width="7.5"/></svg></div>
<div class="t cc" style="left:51px;top:5px">GBP</div>
<div class="t nm" style="left:77.5px;top:4px;letter-spacing:-0.037px;">Claimant Count Rate (Feb)</div>
<div class="bar o1" style="left:561px;top:6px"><i></i></div>
<div class="dash" style="left:622px;top:10px"></div>
<div class="dash" style="left:658px;top:10px"></div>
<div class="dash" style="left:712px;top:10px"></div>
<div class="t v r" style="right:53px;top:4px">4.6%</div>
<div class="ab" style="left:783px;top:4px"><svg width="13" height="15" viewBox="0 0 13 15"><path d="M6.3 2.0 C4.4 2.1 3.4 3.6 3.2 5.6 L2.8 8.7 C2.6 9.5 2.0 10.0 1.3 10.4 L11.3 10.4 C10.6 10.0 10.0 9.5 9.8 8.7 L9.4 5.6 C9.2 3.6 8.2 2.1 6.3 2.0 Z" fill="none" stroke="#d3d3d6" stroke-width="1"/><rect x="5.8" y="0.9" width="1" height="1.2" fill="#d3d3d6"/><path d="M5 12.1 H7.6 A1.3 1.1 0 0 1 5 12.1 Z" fill="#d3d3d6"/></svg></div>
</div>
<div class="row" style="top:572px;height:24px">
<div class="t tm" style="left:4px;top:5px">07:00</div>
<div class="ab" style="left:37px;top:7px"><svg width="12" height="10" viewBox="0 0 60 50"><rect width="60" height="50" fill="#1f3fa8"/><path d="M0 0L60 50M60 0L0 50" stroke="#fff" stroke-width="10"/><path d="M0 0L60 50M60 0L0 50" stroke="#e66" stroke-width="4"/><path d="M30 0V50M0 23.5H60" stroke="#fff" stroke-width="13"/><path d="M27.5 0V50" stroke="#d40000" stroke-width="10"/><path d="M0 23.5H60" stroke="#d40000" stroke-width="7.5"/></svg></div>
<div class="t cc" style="left:51px;top:6px">GBP</div>
<div class="t nm" style="left:77.5px;top:5px;letter-spacing:0.052px;">Employment Change (3M) (Jan)</div>
<div class="bar r1" style="left:561px;top:6px"></div>
<div class="dash" style="left:622px;top:11px"></div>
<div class="dash" style="left:658px;top:11px"></div>
<div class="dash" style="left:712px;top:11px"></div>
<div class="t v r" style="right:53px;top:5px">107K</div>
<div class="ab" style="left:783px;top:5px"><svg width="13" height="15" viewBox="0 0 13 15"><path d="M6.3 2.0 C4.4 2.1 3.4 3.6 3.2 5.6 L2.8 8.7 C2.6 9.5 2.0 10.0 1.3 10.4 L11.3 10.4 C10.6 10.0 10.0 9.5 9.8 8.7 L9.4 5.6 C9.2 3.6 8.2 2.1 6.3 2.0 Z" fill="none" stroke="#d3d3d6" stroke-width="1"/><rect x="5.8" y="0.9" width="1" height="1.2" fill="#d3d3d6"/><path d="M5 12.1 H7.6 A1.3 1.1 0 0 1 5 12.1 Z" fill="#d3d3d6"/></svg></div>
</div>
<div class="row" style="top:596px;height:25px">
<div class="t tm" style="left:4px;top:5px">07:00</div>
<div class="ab" style="left:37px;top:7px"><svg width="12" height="10" viewBox="0 0 60 50"><rect width="60" height="50" fill="#1f3fa8"/><path d="M0 0L60 50M60 0L0 50" stroke="#fff" stroke-width="10"/><path d="M0 0L60 50M60 0L0 50" stroke="#e66" stroke-width="4"/><path d="M30 0V50M0 23.5H60" stroke="#fff" stroke-width="13"/><path d="M27.5 0V50" stroke="#d40000" stroke-width="10"/><path d="M0 23.5H60" stroke="#d40000" stroke-width="7.5"/></svg></div>
<div class="t cc" style="left:51px;top:6px">GBP</div>
<div class="t nm" style="left:77.5px;top:5px;">ILO Unemployment Rate (3M) (Jan)</div>
<div class="bar r1" style="left:561px;top:7px"></div>
<div class="dash" style="left:622px;top:11px"></div>
<div class="dash" style="left:658px;top:11px"></div>
<div class="dash" style="left:712px;top:11px"></div>
<div class="t v r" style="right:53px;top:5px">4.4%</div>
<div class="ab" style="left:783px;top:5px"><svg width="13" height="15" viewBox="0 0 13 15"><path d="M6.4 1.5 C4.2 1.6 2.9 3.2 2.6 5.5 L2.1 8.6 C1.9 9.4 1.2 9.9 0.5 10.2 L0.5 11 L12.1 11 L12.1 10.2 C11.4 9.9 10.9 9.4 10.7 8.6 L10.2 5.5 C9.9 3.2 8.6 1.6 6.4 1.5 Z" fill="#e5871b"/><rect x="5.8" y="0.8" width="1.2" height="1.2" fill="#e5871b"/><path d="M4.9 11.9 H7.9 A1.5 1.5 0 0 1 4.9 11.9 Z" fill="#e5871b"/></svg></div>
</div>
<div class="row" style="top:621px;height:24px">
<div class="t tm" style="left:4px;top:4px">11:00</div>
<div class="ab" style="left:37px;top:6px"><svg width="12" height="10" viewBox="0 0 60 50"><rect width="60" height="50" fill="#1f3fa8"/><path d="M0 0L60 50M60 0L0 50" stroke="#fff" stroke-width="10"/><path d="M0 0L60 50M60 0L0 50" stroke="#e66" stroke-width="4"/><path d="M30 0V50M0 23.5H60" stroke="#fff" stroke-width="13"/><path d="M27.5 0V50" stroke="#d40000" stroke-width="10"/><path d="M0 23.5H60" stroke="#d40000" stroke-width="7.5"/></svg></div>
<div class="t cc" style="left:51px;top:5px">GBP</div>
<div class="t nm" style="left:77.5px;top:4px;letter-spacing:-0.036px;">BoE Interest Rate Decision</div>
<div class="bar r1" style="left:561px;top:6px"></div>
<div class="dash" style="left:622px;top:10px"></div>
<div class="dash" style="left:658px;top:10px"></div>
<div class="t v r" style="right:110px;top:4px">4.5%</div>
<div class="t v r" style="right:53px;top:4px">4.5%</div>
<div class="ab" style="left:783px;top:4px"><svg width="13" height="15" viewBox="0 0 13 15"><path d="M6.4 1.5 C4.2 1.6 2.9 3.2 2.6 5.5 L2.1 8.6 C1.9 9.4 1.2 9.9 0.5 10.2 L0.5 11 L12.1 11 L12.1 10.2 C11.4 9.9 10.9 9.4 10.7 8.6 L10.2 5.5 C9.9 3.2 8.6 1.6 6.4 1.5 Z" fill="#e5871b"/><rect x="5.8" y="0.8" width="1.2" height="1.2" fill="#e5871b"/><path d="M4.9 11.9 H7.9 A1.5 1.5 0 0 1 4.9 11.9 Z" fill="#e5871b"/></svg></div>
</div>
<div class="row" style="top:645px;height:26px">
<div class="t tm" style="left:4px;top:6px">11:00</div>
<div class="ab" style="left:37px;top:8px"><svg width="12" height="10" viewBox="0 0 60 50"><rect width="60" height="50" fill="#1f3fa8"/><path d="M0 0L60 50M60 0L0 50" stroke="#fff" stroke-width="10"/><path d="M0 0L60 50M60 0L0 50" stroke="#e66" stroke-width="4"/><path d="M30 0V50M0 23.5H60" stroke="#fff" stroke-width="13"/><path d="M27.5 0V50" stroke="#d40000" stroke-width="10"/><path d="M0 23.5H60" stroke="#d40000" stroke-width="7.5"/></svg></div>
<div class="t cc" style="left:51px;top:7px">GBP</div>
<div class="t nm" style="left:77.5px;top:6px;">BoE Minutes</div>
<div class="bar r1" style="left:561px;top:7px"></div>
<div class="lab" style="left:663px;top:6px"><span>REPORT</span></div>
<div class="ab" style="left:783px;top:6px"><svg width="13" height="15" viewBox="0 0 13 15"><path d="M6.3 2.0 C4.4 2.1 3.4 3.6 3.2 5.6 L2.8 8.7 C2.6 9.5 2.0 10.0 1.3 10.4 L11.3 10.4 C10.6 10.0 10.0 9.5 9.8 8.7 L9.4 5.6 C9.2 3.6 8.2 2.1 6.3 2.0 Z" fill="none" stroke="#d3d3d6" stroke-width="1"/><rect x="5.8" y="0.9" width="1" height="1.2" fill="#d3d3d6"/><path d="M5 12.1 H7.6 A1.3 1.1 0 0 1 5 12.1 Z" fill="#d3d3d6"/></svg></div>
</div>
<div class="row" style="top:671px;height:25px">
<div class="t tm" style="left:4px;top:5px">11:00</div>
<div class="ab" style="left:37px;top:7px"><svg width="12" height="10" viewBox="0 0 60 50"><rect width="60" height="50" fill="#1f3fa8"/><path d="M0 0L60 50M60 0L0 50" stroke="#fff" stroke-width="10"/><path d="M0 0L60 50M60 0L0 50" stroke="#e66" stroke-width="4"/><path d="M30 0V50M0 23.5H60" stroke="#fff" stroke-width="13"/><path d="M27.5 0V50" stroke="#d40000" stroke-width="10"/><path d="M0 23.5H60" stroke="#d40000" stroke-width="7.5"/></svg></div>
<div class="t cc" style="left:51px;top:6px">GBP</div>
<div class="t nm" style="left:77.5px;top:5px;letter-spacing:-0.165px;">BoE MPC Vote Rate Cut</div>
<div class="bar r1" style="left:561px;top:7px"></div>
<div class="dash" style="left:622px;top:11px"></div>
<div class="dash" style="left:658px;top:11px"></div>
<div class="dash" style="left:712px;top:11px"></div>
<div class="t v r" style="right:53px;top:5px">9</div>
<div class="ab" style="left:783px;top:5px"><svg width="13" height="15" viewBox="0 0 13 15"><path d="M6.3 2.0 C4.4 2.1 3.4 3.6 3.2 5.6 L2.8 8.7 C2.6 9.5 2.0 10.0 1.3 10.4 L11.3 10.4 C10.6 10.0 10.0 9.5 9.8 8.7 L9.4 5.6 C9.2 3.6 8.2 2.1 6.3 2.0 Z" fill="none" stroke="#d3d3d6" stroke-width="1"/><rect x="5.8" y="0.9" width="1" height="1.2" fill="#d3d3d6"/><path d="M5 12.1 H7.6 A1.3 1.1 0 0 1 5 12.1 Z" fill="#d3d3d6"/></svg></div>
</div>
<div class="row" style="top:696px;height:24px">
<div class="t tm" style="left:4px;top:4px">11:00</div>
<div class="ab" style="left:37px;top:6px"><svg width="12" height="10" viewBox="0 0 60 50"><rect width="60" height="50" fill="#1f3fa8"/><path d="M0 0L60 50M60 0L0 50" stroke="#fff" stroke-width="10"/><path d="M0 0L60 50M60 0L0 50" stroke="#e66" stroke-width="4"/><path d="M30 0V50M0 23.5H60" stroke="#fff" stroke-width="13"/><path d="M27.5 0V50" stroke="#d40000" stroke-width="10"/><path d="M0 23.5H60" stroke="#d40000" stroke-width="7.5"/></svg></div>
<div class="t cc" style="left:51px;top:5px">GBP</div>
<div class="t nm" style="left:77.5px;top:4px;letter-spacing:-0.090px;">BoE MPC Vote Rate Hike</div>
<div class="bar r1" style="left:561px;top:6px"></div>
<div class="dash" style="left:622px;top:10px"></div>
<div class="dash" style="left:658px;top:10px"></div>
<div class="dash" style="left:712px;top:10px"></div>
<div class="t v r" style="right:53px;top:4px">0</div>
<div class="ab" style="left:783px;top:4px"><svg width="13" height="15" viewBox="0 0 13 15"><path d="M6.3 2.0 C4.4 2.1 3.4 3.6 3.2 5.6 L2.8 8.7 C2.6 9.5 2.0 10.0 1.3 10.4 L11.3 10.4 C10.6 10.0 10.0 9.5 9.8 8.7 L9.4 5.6 C9.2 3.6 8.2 2.1 6.3 2.0 Z" fill="none" stroke="#d3d3d6" stroke-width="1"/><rect x="5.8" y="0.9" width="1" height="1.2" fill="#d3d3d6"/><path d="M5 12.1 H7.6 A1.3 1.1 0 0 1 5 12.1 Z" fill="#d3d3d6"/></svg></div>
</div>
<div class="row" style="top:720px;height:25px">
<div class="t tm" style="left:4px;top:5px">11:00</div>
<div class="ab" style="left:37px;top:7px"><svg width="12" height="10" viewBox="0 0 60 50"><rect width="60" height="50" fill="#1f3fa8"/><path d="M0 0L60 50M60 0L0 50" stroke="#fff" stroke-width="10"/><path d="M0 0L60 50M60 0L0 50" stroke="#e66" stroke-width="4"/><path d="M30 0V50M0 23.5H60" stroke="#fff" stroke-width="13"/><path d="M27.5 0V50" stroke="#d40000" stroke-width="10"/><path d="M0 23.5H60" stroke="#d40000" stroke-width="7.5"/></svg></div>
<div class="t cc" style="left:51px;top:6px">GBP</div>
<div class="t nm" style="left:77.5px;top:5px;letter-spacing:-0.135px;">BoE MPC Vote Rate Unchanged</div>
<div class="bar r1" style="left:561px;top:7px"></div>
<div class="dash" style="left:622px;top:11px"></div>
<div class="dash" style="left:658px;top:11px"></div>
<div class="dash" style="left:712px;top:11px"></div>
<div class="t v r" style="right:53px;top:5px">0</div>
<div class="ab" style="left:783px;top:5px"><svg width="13" height="15" viewBox="0 0 13 15"><path d="M6.3 2.0 C4.4 2.1 3.4 3.6 3.2 5.6 L2.8 8.7 C2.6 9.5 2.0 10.0 1.3 10.4 L11.3 10.4 C10.6 10.0 10.0 9.5 9.8 8.7 L9.4 5.6 C9.2 3.6 8.2 2.1 6.3 2.0 Z" fill="none" stroke="#d3d3d6" stroke-width="1"/><rect x="5.8" y="0.9" width="1" height="1.2" fill="#d3d3d6"/><path d="M5 12.1 H7.6 A1.3 1.1 0 0 1 5 12.1 Z" fill="#d3d3d6"/></svg></div>
</div>
<div class="row" style="top:745px;height:26px">
<div class="t tm" style="left:4px;top:5px">11:00</div>
<div class="ab" style="left:37px;top:7px"><svg width="12" height="10" viewBox="0 0 60 50"><rect width="60" height="50" fill="#1f3fa8"/><path d="M0 0L60 50M60 0L0 50" stroke="#fff" stroke-width="10"/><path d="M0 0L60 50M60 0L0 50" stroke="#e66" stroke-width="4"/><path d="M30 0V50M0 23.5H60" stroke="#fff" stroke-width="13"/><path d="M27.5 0V50" stroke="#d40000" stroke-width="10"/><path d="M0 23.5H60" stroke="#d40000" stroke-width="7.5"/></svg></div>
<div class="t cc" style="left:51px;top:6px">GBP</div>
<div class="t nm" style="left:77.5px;top:5px;">Monetary Policy Report</div>
<div class="bar r1" style="left:561px;top:7px"></div>
<div class="lab" style="left:663px;top:5px"><span>REPORT</span></div>
<div class="ab" style="left:783px;top:5px"><svg width="13" height="15" viewBox="0 0 13 15"><path d="M6.3 2.0 C4.4 2.1 3.4 3.6 3.2 5.6 L2.8 8.7 C2.6 9.5 2.0 10.0 1.3 10.4 L11.3 10.4 C10.6 10.0 10.0 9.5 9.8 8.7 L9.4 5.6 C9.2 3.6 8.2 2.1 6.3 2.0 Z" fill="none" stroke="#d3d3d6" stroke-width="1"/><rect x="5.8" y="0.9" width="1" height="1.2" fill="#d3d3d6"/><path d="M5 12.1 H7.6 A1.3 1.1 0 0 1 5 12.1 Z" fill="#d3d3d6"/></svg></div>
</div>
<div class="row" style="top:771px;height:24px">
<div class="t tm" style="left:4px;top:4px">12:30</div>
<div class="ab" style="left:37px;top:6px"><svg width="12" height="10" viewBox="0 0 12 10" shape-rendering="crispEdges"><rect width="12" height="10" fill="#fae6e6"/><rect x="8" y="0" width="4" height="1" fill="#d40a0a"/><rect x="8" y="2" width="4" height="1" fill="#d82020"/><rect x="8" y="4" width="4" height="1" fill="#e47070"/><rect x="0" y="7" width="12" height="1" fill="#d82424"/><rect x="0" y="9" width="12" height="1" fill="#d20808"/><rect x="0" y="6" width="8" height="1" fill="#dcdcf4"/><rect x="0" y="0" width="8" height="6" fill="#3c48c4"/><rect x="1" y="1" width="1" height="1" fill="#8088dc"/><rect x="3" y="1" width="1" height="1" fill="#8088dc"/><rect x="5" y="1" width="1" height="1" fill="#8088dc"/><rect x="2" y="3" width="1" height="1" fill="#8088dc"/><rect x="4" y="3" width="1" height="1" fill="#8088dc"/><rect x="6" y="3" width="1" height="1" fill="#8088dc"/><rect x="1" y="5" width="6" height="1" fill="#7078d4"/></svg></div>
<div class="t cc" style="left:51px;top:5px">USD</div>
<div class="t nm" style="left:77.5px;top:4px;letter-spacing:0.117px;">Initial Jobless Claims (Mar 14)</div>
<div class="bar o1" style="left:561px;top:6px"><i></i></div>
<div class="dash" style="left:622px;top:10px"></div>
<div class="dash" style="left:658px;top:10px"></div>
<div class="dash" style="left:712px;top:10px"></div>
<div class="t v r" style="right:53px;top:4px">220K</div>
<div class="ab" style="left:783px;top:4px"><svg width="13" height="15" viewBox="0 0 13 15"><path d="M6.4 1.5 C4.2 1.6 2.9 3.2 2.6 5.5 L2.1 8.6 C1.9 9.4 1.2 9.9 0.5 10.2 L0.5 11 L12.1 11 L12.1 10.2 C11.4 9.9 10.9 9.4 10.7 8.6 L10.2 5.5 C9.9 3.2 8.6 1.6 6.4 1.5 Z" fill="#e5871b"/><rect x="5.8" y="0.8" width="1.2" height="1.2" fill="#e5871b"/><path d="M4.9 11.9 H7.9 A1.5 1.5 0 0 1 4.9 11.9 Z" fill="#e5871b"/></svg></div>
</div>
<div class="row" style="top:795px;height:25px">
<div class="t tm" style="left:4px;top:5px">12:30</div>
<div class="ab" style="left:37px;top:7px"><svg width="12" height="10" viewBox="0 0 12 10" shape-rendering="crispEdges"><rect width="12" height="10" fill="#fae6e6"/><rect x="8" y="0" width="4" height="1" fill="#d40a0a"/><rect x="8" y="2" width="4" height="1" fill="#d82020"/><rect x="8" y="4" width="4" height="1" fill="#e47070"/><rect x="0" y="7" width="12" height="1" fill="#d82424"/><rect x="0" y="9" width="12" height="1" fill="#d20808"/><rect x="0" y="6" width="8" height="1" fill="#dcdcf4"/><rect x="0" y="0" width="8" height="6" fill="#3c48c4"/><rect x="1" y="1" width="1" height="1" fill="#8088dc"/><rect x="3" y="1" width="1" height="1" fill="#8088dc"/><rect x="5" y="1" width="1" height="1" fill="#8088dc"/><rect x="2" y="3" width="1" height="1" fill="#8088dc"/><rect x="4" y="3" width="1" height="1" fill="#8088dc"/><rect x="6" y="3" width="1" height="1" fill="#8088dc"/><rect x="1" y="5" width="6" height="1" fill="#7078d4"/></svg></div>
<div class="t cc" style="left:51px;top:6px">USD</div>
<div class="t nm" style="left:77.5px;top:5px;letter-spacing:0.029px;">Philadelphia Fed Manufacturing Survey (Mar)</div>
<div class="bar o1" style="left:561px;top:7px"><i></i></div>
<div class="dash" style="left:622px;top:11px"></div>
<div class="dash" style="left:658px;top:11px"></div>
<div class="dash" style="left:712px;top:11px"></div>
<div class="t v r" style="right:53px;top:5px">18.1</div>
<div class="ab" style="left:783px;top:5px"><svg width="13" height="15" viewBox="0 0 13 15"><path d="M6.3 2.0 C4.4 2.1 3.4 3.6 3.2 5.6 L2.8 8.7 C2.6 9.5 2.0 10.0 1.3 10.4 L11.3 10.4 C10.6 10.0 10.0 9.5 9.8 8.7 L9.4 5.6 C9.2 3.6 8.2 2.1 6.3 2.0 Z" fill="none" stroke="#d3d3d6" stroke-width="1"/><rect x="5.8" y="0.9" width="1" height="1.2" fill="#d3d3d6"/><path d="M5 12.1 H7.6 A1.3 1.1 0 0 1 5 12.1 Z" fill="#d3d3d6"/></svg></div>
</div>
<div class="row" style="top:820px;height:24px">
<div class="t tm" style="left:4px;top:4px">14:00</div>
<div class="ab" style="left:37px;top:6px"><svg width="12" height="10" viewBox="0 0 12 10" shape-rendering="crispEdges"><rect width="12" height="10" fill="#fae6e6"/><rect x="8" y="0" width="4" height="1" fill="#d40a0a"/><rect x="8" y="2" width="4" height="1" fill="#d82020"/><rect x="8" y="4" width="4" height="1" fill="#e47070"/><rect x="0" y="7" width="12" height="1" fill="#d82424"/><rect x="0" y="9" width="12" height="1" fill="#d20808"/><rect x="0" y="6" width="8" height="1" fill="#dcdcf4"/><rect x="0" y="0" width="8" height="6" fill="#3c48c4"/><rect x="1" y="1" width="1" height="1" fill="#8088dc"/><rect x="3" y="1" width="1" height="1" fill="#8088dc"/><rect x="5" y="1" width="1" height="1" fill="#8088dc"/><rect x="2" y="3" width="1" height="1" fill="#8088dc"/><rect x="4" y="3" width="1" height="1" fill="#8088dc"/><rect x="6" y="3" width="1" height="1" fill="#8088dc"/><rect x="1" y="5" width="6" height="1" fill="#7078d4"/></svg></div>
<div class="t cc" style="left:51px;top:5px">USD</div>
<div class="t nm" style="left:77.5px;top:4px;">Existing Home Sales Change (MoM) (Feb)</div>
<div class="bar o1" style="left:561px;top:6px"><i></i></div>
<div class="dash" style="left:622px;top:10px"></div>
<div class="dash" style="left:658px;top:10px"></div>
<div class="dash" style="left:712px;top:10px"></div>
<div class="t v r" style="right:53px;top:4px">-4.9%</div>
<div class="ab" style="left:783px;top:4px"><svg width="13" height="15" viewBox="0 0 13 15"><path d="M6.3 2.0 C4.4 2.1 3.4 3.6 3.2 5.6 L2.8 8.7 C2.6 9.5 2.0 10.0 1.3 10.4 L11.3 10.4 C10.6 10.0 10.0 9.5 9.8 8.7 L9.4 5.6 C9.2 3.6 8.2 2.1 6.3 2.0 Z" fill="none" stroke="#d3d3d6" stroke-width="1"/><rect x="5.8" y="0.9" width="1" height="1.2" fill="#d3d3d6"/><path d="M5 12.1 H7.6 A1.3 1.1 0 0 1 5 12.1 Z" fill="#d3d3d6"/></svg></div>
</div>
<div class="day" style="top:844px;height:20px"><div class="t dt" style="top:4px">FRIDAY, MARCH 21</div></div>
<div class="row" style="top:864px;height:24px">
<div class="t tm" style="left:4px;top:4px">00:01</div>
<div class="ab" style="left:37px;top:6px"><svg width="12" height="10" viewBox="0 0 60 50"><rect width="60" height="50" fill="#1f3fa8"/><path d="M0 0L60 50M60 0L0 50" stroke="#fff" stroke-width="10"/><path d="M0 0L60 50M60 0L0 50" stroke="#e66" stroke-width="4"/><path d="M30 0V50M0 23.5H60" stroke="#fff" stroke-width="13"/><path d="M27.5 0V50" stroke="#d40000" stroke-width="10"/><path d="M0 23.5H60" stroke="#d40000" stroke-width="7.5"/></svg></div>
<div class="t cc" style="left:51px;top:5px">GBP</div>
<div class="t nm" style="left:77.5px;top:4px;letter-spacing:0.018px;">GfK Consumer Confidence (Mar)</div>
<div class="bar o1" style="left:561px;top:6px"><i></i></div>
<div class="dash" style="left:622px;top:10px"></div>
<div class="dash" style="left:658px;top:10px"></div>
<div class="dash" style="left:712px;top:10px"></div>
<div class="t v r" style="right:53px;top:4px">-20</div>
<div class="ab" style="left:783px;top:4px"><svg width="13" height="15" viewBox="0 0 13 15"><path d="M6.3 2.0 C4.4 2.1 3.4 3.6 3.2 5.6 L2.8 8.7 C2.6 9.5 2.0 10.0 1.3 10.4 L11.3 10.4 C10.6 10.0 10.0 9.5 9.8 8.7 L9.4 5.6 C9.2 3.6 8.2 2.1 6.3 2.0 Z" fill="none" stroke="#d3d3d6" stroke-width="1"/><rect x="5.8" y="0.9" width="1" height="1.2" fill="#d3d3d6"/><path d="M5 12.1 H7.6 A1.3 1.1 0 0 1 5 12.1 Z" fill="#d3d3d6"/></svg></div>
</div>
<div class="row" style="top:888px;height:25px">
<div class="t tm" style="left:4px;top:6px">13:05</div>
<div class="ab" style="left:37px;top:8px"><svg width="12" height="10" viewBox="0 0 12 10" shape-rendering="crispEdges"><rect width="12" height="10" fill="#fae6e6"/><rect x="8" y="0" width="4" height="1" fill="#d40a0a"/><rect x="8" y="2" width="4" height="1" fill="#d82020"/><rect x="8" y="4" width="4" height="1" fill="#e47070"/><rect x="0" y="7" width="12" height="1" fill="#d82424"/><rect x="0" y="9" width="12" height="1" fill="#d20808"/><rect x="0" y="6" width="8" height="1" fill="#dcdcf4"/><rect x="0" y="0" width="8" height="6" fill="#3c48c4"/><rect x="1" y="1" width="1" height="1" fill="#8088dc"/><rect x="3" y="1" width="1" height="1" fill="#8088dc"/><rect x="5" y="1" width="1" height="1" fill="#8088dc"/><rect x="2" y="3" width="1" height="1" fill="#8088dc"/><rect x="4" y="3" width="1" height="1" fill="#8088dc"/><rect x="6" y="3" width="1" height="1" fill="#8088dc"/><rect x="1" y="5" width="6" height="1" fill="#7078d4"/></svg></div>
<div class="t cc" style="left:51px;top:7px">USD</div>
<div class="t nm" style="left:77.5px;top:6px;">Fed&#x27;s Williams speech</div>
<div class="bar o1" style="left:561px;top:7px"><i></i></div>
<div class="lab" style="left:622px;top:6px"><span>SPEECH</span></div>
<div style="position:absolute;left:676px;top:8px;width:1px;height:9px;background:#55555f"></div>
<div class="t v" style="left:685px;top:7px;font-size:10.1px">Average:</div>
<div class="t v" style="left:735px;top:6px;font-style:italic;">5.2</div>
<div class="ab" style="left:783px;top:6px"><svg width="13" height="15" viewBox="0 0 13 15"><path d="M6.3 2.0 C4.4 2.1 3.4 3.6 3.2 5.6 L2.8 8.7 C2.6 9.5 2.0 10.0 1.3 10.4 L11.3 10.4 C10.6 10.0 10.0 9.5 9.8 8.7 L9.4 5.6 C9.2 3.6 8.2 2.1 6.3 2.0 Z" fill="none" stroke="#d3d3d6" stroke-width="1"/><rect x="5.8" y="0.9" width="1" height="1.2" fill="#d3d3d6"/><path d="M5 12.1 H7.6 A1.3 1.1 0 0 1 5 12.1 Z" fill="#d3d3d6"/></svg></div>
</div>
</body></html>
